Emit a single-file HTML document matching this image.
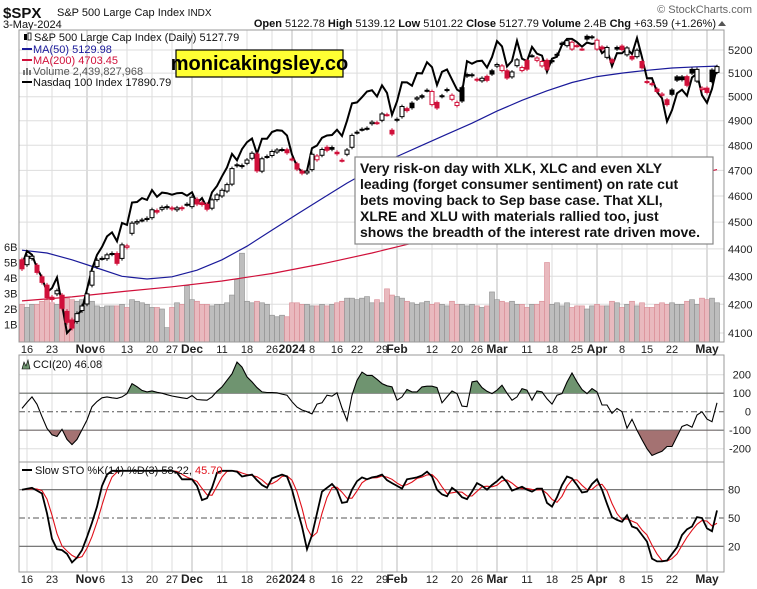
<!DOCTYPE html>
<html><head><meta charset="utf-8">
<style>
body{margin:0;background:#fff;}
svg{display:block;font-family:"Liberation Sans",Arial,sans-serif;}
</style></head>
<body>
<svg id="chart" width="757" height="589" viewBox="0 0 757 589" xmlns="http://www.w3.org/2000/svg">
<rect x="0" y="0" width="757" height="589" fill="#fff"/>
<g>
<text x="3" y="18" font-size="15" font-weight="bold" fill="#111">$SPX</text>
<text x="57" y="16" font-size="11" fill="#111">S&amp;P 500 Large Cap Index <tspan font-size="10">INDX</tspan></text>
<text x="3" y="28" font-size="11" fill="#111">3-May-2024</text>
<text x="716" y="27" font-size="11" text-anchor="end" fill="#111"><tspan font-weight="bold">Open</tspan> 5122.78 <tspan font-weight="bold">High</tspan> 5139.12 <tspan font-weight="bold">Low</tspan> 5101.22 <tspan font-weight="bold">Close</tspan> 5127.79 <tspan font-weight="bold">Volume</tspan> 2.4B <tspan font-weight="bold">Chg</tspan> +63.59 (+1.26%)</text>
<path d="M718,26 L722,21 L726,26 Z" fill="#555"/>
<text x="752" y="13" font-size="11" text-anchor="end" fill="#666">© StockCharts.com</text>
</g>
<g id="layers"></g>
</svg>
<script>
const closes=[4327,4373,4373,4314,4278,4224,4217,4248,4186,4137,
4117,4167,4194,4237,4318,4358,4365,4378,4383,4347,
4415,4411,4496,4502,4508,4514,4547,4538,4556,4559,
4550,4554,4551,4568,4595,4569,4567,4549,4585,4604,
4622,4644,4707,4719,4719,4741,4768,4698,4746,4755,
4775,4781,4783,4770,4743,4705,4689,4697,4764,4757,
4783,4780,4784,4766,4739,4781,4840,4851,4865,4869,
4894,4891,4928,4925,4846,4906,4959,4942,4954,4995,
4998,5027,5022,4953,5001,5030,5006,4976,4982,5087,
5089,5070,5078,5069,5096,5137,5131,5079,5105,5157,
5124,5117,5175,5165,5150,5117,5149,5178,5224,5241,
5234,5218,5204,5248,5254,5243,5205,5211,5147,5204,
5202,5209,5161,5199,5123,5061,5051,5022,5011,4967,
5010,5070,5072,5048,5100,5116,5036,5018,5064,5128];
const opens=[4360,4342,4365,4340,4298,4268,4225,4237,4232,4175,
4145,4140,4178,4201,4268,4335,4365,4364,4381,4383,
4365,4406,4458,4497,4507,4510,4517,4544,4549,4555,
4554,4547,4555,4567,4559,4587,4574,4568,4553,4586,
4600,4619,4646,4722,4715,4728,4748,4765,4697,4754,
4759,4773,4782,4782,4745,4726,4697,4690,4703,4742,
4760,4792,4791,4772,4740,4764,4792,4853,4864,4868,
4888,4892,4902,4925,4861,4902,4917,4950,4973,4990,
5004,5026,4967,4976,5004,5026,4989,4963,5038,5094,
5093,5074,5067,5086,5110,5130,5111,5110,5084,5132,
5111,5154,5175,5155,5131,5155,5154,5181,5230,5219,
5204,5219,5204,5260,5258,5204,5213,5168,5158,5211,
5217,5179,5172,5171,5150,5064,5055,5032,5006,4987,
5028,5084,5084,5085,5116,5066,5030,5036,5113,5103];
const prevClose0=4349;
const ndx=[14995,15180,15130,14950,14824,14633,14686,14826,14473,14110,
14181,14330,14410,14672,14940,15127,15236,15379,15434,15312,
15563,15537,15850,15857,15913,15887,16028,15931,15991,15982,
15961,15982,15987,15947,15997,15840,15913,15780,15995,16085,
16225,16352,16552,16458,16623,16726,16781,16554,16778,16778,
16878,16906,16898,16825,16543,16368,16283,16305,16637,16677,
16792,16825,16833,16912,16818,17048,17314,17330,17410,17499,
17518,17421,17596,17477,17137,17344,17642,17641,17590,17788,
17783,17962,17883,17600,17807,17845,17685,17529,17480,17979,
17937,17977,17986,17875,18043,18302,18217,17893,17982,18307,
18017,17977,18208,18099,18067,17808,18018,18050,18240,18339,
18339,18284,18211,18280,18255,18274,18107,18172,17899,18107,
18105,18179,18090,18354,18040,17706,17707,17493,17394,17037,
17210,17471,17526,17431,17718,17783,17441,17321,17541,17891];
const volumes=[2.3,2.1,2.3,2.3,2.5,2.6,2.4,2.3,2.9,2.7,
2.6,2.5,2.6,2.9,2.5,2.2,2.1,2.2,2.2,2.2,
2.3,2.1,2.6,2.5,2.4,2.3,2.1,2.1,2.0,0.8,
2.1,2.4,2.3,3.5,2.6,2.5,2.3,2.3,2.2,2.3,
2.3,2.4,2.9,3.9,5.6,2.5,2.4,2.5,2.4,2.3,
1.6,1.5,1.6,1.5,2.4,2.4,2.3,2.3,2.2,2.2,
2.3,2.2,2.3,2.4,2.5,2.7,2.7,2.6,2.7,2.8,
2.4,2.6,2.4,3.3,2.9,2.8,2.7,2.5,2.4,2.3,
2.4,2.5,2.3,2.4,2.3,2.2,2.5,2.3,2.3,2.2,
2.3,2.2,2.1,2.2,3.1,2.6,2.5,2.4,2.5,2.3,
2.3,2.1,2.3,2.3,2.5,5.0,2.3,2.4,2.2,2.4,
2.1,2.2,2.2,2.0,2.2,2.3,2.2,2.2,2.5,2.4,
2.1,2.3,2.5,2.2,2.4,2.1,2.1,2.3,2.4,2.3,
2.4,2.3,2.3,2.5,2.6,2.3,2.7,2.6,2.7,2.4];
const ma50Idx=[0,5,10,15,20,25,30,35,40,45,50,55,60,65,70,75,80,85,90,95,100,105,110,115,120,125,130,135,139];
const ma50Vals=[4395,4385,4360,4330,4300,4290,4298,4322,4360,4410,4470,4530,4590,4650,4705,4755,4800,4845,4890,4940,4985,5025,5060,5085,5100,5112,5122,5127,5130];
const ma200Idx=[0,10,20,30,40,50,60,70,80,90,100,110,120,130,139];
const ma200Vals=[4212,4226,4245,4262,4283,4310,4345,4385,4430,4478,4525,4572,4618,4662,4703];
const cci=[18,50,80,40,-27,-90,-125,-134,-95,-150,
-178,-150,-98,-45,27,55,75,80,75,72,
80,98,152,135,115,107,112,105,100,92,
85,80,75,71,87,66,64,62,80,110,
134,170,205,268,241,188,161,130,107,104,
104,102,95,89,54,25,9,0,-12,41,
48,89,84,102,20,-48,89,170,214,196,
196,175,152,140,134,62,80,120,107,107,
134,138,138,130,48,80,112,98,30,27,
161,166,130,110,98,116,143,100,62,80,
125,116,62,112,107,70,41,89,98,160,
209,161,120,98,125,107,36,36,-9,18,
0,-89,-41,-100,-152,-200,-237,-225,-214,-188,
-188,-134,-80,-70,-84,-18,0,-40,-54,48];
const stoK=[80,81,82,79,76,55,28,17,16,12,
3,8,16,30,45,62,84,96,100,100,
100,100,100,100,100,100,100,100,100,100,
100,98,91,91,91,84,69,71,82,98,
100,100,100,99,94,95,96,90,85,82,
92,94,96,94,80,60,41,17,32,55,
78,82,86,80,66,67,80,89,93,91,
93,94,96,90,87,84,81,91,92,93,
95,99,94,80,75,73,82,78,72,70,
78,87,84,80,85,89,94,88,79,81,
83,80,78,81,81,66,62,72,85,94,
92,85,77,78,86,91,80,65,51,48,
46,53,41,39,32,25,7,4,4,5,
12,19,32,38,41,51,50,39,36,58];
const priceTicks=[4100,4200,4300,4400,4500,4600,4700,4800,4900,5000,5100,5200];
const volTicks=[1,2,3,4,5,6];
const cciTicks=[200,100,0,-100,-200];
const stoTicks=[80,50,20];
const dateLabelIdx=[1,6,13,16,21,26,30,34,40,45,50,54,58,63,67,72,75,82,87,91,95,101,106,111,115,120,125,130,137];
const dateLabelText=["16","23","Nov","6","13","20","27","Dec","11","18","26","2024","8","16","22","29","Feb","12","20","26","Mar","11","18","25","Apr","8","15","22","May"];
const monthLabels=["Nov","Dec","2024","Feb","Mar","Apr","May"];

const NS="http://www.w3.org/2000/svg";
const root=document.getElementById('layers');
const L=19,R=724;
const P={top:30,bot:342},C={top:355,bot:462},S={top:462,bot:572};
function xOf(i){return 22+5*i;}
function py(p){return 50+1190.6*Math.log(5200/p);}
function ny(v){return 333-1122*Math.log(v/14110);}
function vy(v){return 340-15.5*v;}
function cy(v){return 411.7-0.185*v;}
function sy(v){return 518-0.944*(v-50);}
function mk(tag,attrs,parent){const e=document.createElementNS(NS,tag);for(const k in attrs)e.setAttribute(k,attrs[k]);(parent||root).appendChild(e);return e;}

const defs=mk('defs',{});
[['clipP',P],['clipC',C],['clipS',S]].forEach(([id,p])=>{const cp=mk('clipPath',{id:id},defs);mk('rect',{x:L,y:p.top,width:R-L,height:p.bot-p.top},cp);});
const cpA=mk('clipPath',{id:'cciAbove'},defs);mk('rect',{x:L,y:C.top,width:R-L,height:cy(100)-C.top},cpA);
const cpB=mk('clipPath',{id:'cciBelow'},defs);mk('rect',{x:L,y:cy(-100),width:R-L,height:C.bot-cy(-100)},cpB);

function panel(p,name){
  const g=mk('g',{});
  
  
  mk('rect',{x:L,y:p.top,width:R-L,height:p.bot-p.top,fill:'#fff',stroke:'none'},g);
  dateLabelIdx.forEach((i,k)=>{
    const isM=monthLabels.includes(dateLabelText[k]);
    const ln=mk('line',{x1:xOf(i),x2:xOf(i),y1:p.top,y2:p.bot,stroke:isM?'#bbb':'#ddd','stroke-width':1},g);
    
    
  });
  return g;
}
const gP=panel(P,'price-panel');
priceTicks.forEach(t=>{
  const ln=mk('line',{x1:L,x2:R,y1:py(t),y2:py(t),stroke:'#ddd'},gP);
  
  
  const tx=mk('text',{x:728,y:py(t)+4,'font-size':11,fill:'#222'});
  tx.textContent=t;
  
  
});
volTicks.forEach(t=>{
  const tx=mk('text',{x:4,y:vy(t)+4,'font-size':11,fill:'#222'});
  tx.textContent=t+'B';
  
  
});
const gV=mk('g',{'clip-path':'url(#clipP)'});


volumes.forEach((v,i)=>{
  const prev=i===0?prevClose0:closes[i-1];
  const down=closes[i]<prev;
  const b=mk('rect',{x:xOf(i)-2.5,y:vy(v),width:5,height:340-vy(v)+2,fill:down?'#e9b9be':'#bdbdbd',stroke:down?'#d98a93':'#8e8e8e','stroke-width':0.6},gV);
  
  
});
function polyline(idx,vals,f,attrs,parent,name){
  let d='';idx.forEach((i,k)=>{d+=(k?'L':'M')+xOf(i).toFixed(1)+','+f(vals[k]).toFixed(1);});
  const p=mk('path',Object.assign({d:d,fill:'none'},attrs),parent);
  
  
  return p;
}
const all=closes.map((_,i)=>i);
const gL=mk('g',{'clip-path':'url(#clipP)'});
polyline(ma200Idx,ma200Vals,py,{stroke:'#d0103a','stroke-width':1.2},gL,'ma200-line');
polyline(ma50Idx,ma50Vals,py,{stroke:'#1a1a9a','stroke-width':1.2},gL,'ma50-line');
polyline(all,ndx,ny,{stroke:'#000','stroke-width':2},gL,'nasdaq100-line');
const gC=mk('g',{'clip-path':'url(#clipP)'});


closes.forEach((c,i)=>{
  const o=opens[i];const prev=i===0?prevClose0:closes[i-1];
  const col=c<prev?'#d0103a':'#000';
  const hi=Math.max(o,c)+8,lo=Math.min(o,c)-8;
  const w=mk('line',{x1:xOf(i),x2:xOf(i),y1:py(hi),y2:py(lo),stroke:col,'stroke-width':1},gC);
  
  
  const top=py(Math.max(o,c)),bh=Math.max(1,py(Math.min(o,c))-top);
  const b=mk('rect',{x:xOf(i)-2,y:top,width:4,height:bh,fill:c<o?col:'#fff',stroke:col,'stroke-width':1},gC);
  
  
});
mk('rect',{x:L,y:P.top,width:R-L,height:P.bot-P.top,fill:'none',stroke:'#999'});

const gCP=panel(C,'cci-panel');
cciTicks.forEach(t=>{
  const ln=mk('line',{x1:L,x2:R,y1:cy(t),y2:cy(t),stroke:(t===100||t===-100)?'#666':(t===0?'#555':'#ddd'),'stroke-width':(t===100||t===-100)?1.2:1,'stroke-dasharray':t===0?'6,3,2,3':'none'},gCP);
  
  
  const tx=mk('text',{x:751,y:cy(t)+4,'font-size':11,fill:'#222','text-anchor':'end'});
  tx.textContent=t;
  
  
});
function areaD(vals,f,base){let d='M'+xOf(0)+','+base;vals.forEach((v,i)=>{d+='L'+xOf(i).toFixed(1)+','+f(v).toFixed(1);});d+='L'+xOf(vals.length-1)+','+base+'Z';return d;}
const fa=mk('path',{d:areaD(cci,cy,cy(100)),fill:'#6f9470',stroke:'none','clip-path':'url(#cciAbove)'});


const fb=mk('path',{d:areaD(cci,cy,cy(-100)),fill:'#a47272',stroke:'none','clip-path':'url(#cciBelow)'});


const gCL=mk('g',{'clip-path':'url(#clipC)'});
polyline(all,cci,cy,{stroke:'#000','stroke-width':1.1},gCL,'cci-line');
mk('rect',{x:L,y:C.top,width:R-L,height:C.bot-C.top,fill:'none',stroke:'#999'});

const gSP=panel(S,'stochastic-panel');
stoTicks.forEach(t=>{
  const ln=mk('line',{x1:L,x2:R,y1:sy(t),y2:sy(t),stroke:t===50?'#555':'#666','stroke-width':t===50?1:1.2,'stroke-dasharray':t===50?'6,3,2,3':'none'},gSP);
  
  
  const tx=mk('text',{x:728,y:sy(t)+4,'font-size':11,fill:'#222'});
  tx.textContent=t;
  
  
});
const stoD=stoK.map((v,i)=>{const a=stoK.slice(Math.max(0,i-2),i+1);return a.reduce((s,x)=>s+x,0)/a.length;});
const gSL=mk('g',{'clip-path':'url(#clipS)'});
polyline(all,stoD,sy,{stroke:'#e0101a','stroke-width':1.1},gSL,'sto-d-line');
polyline(all,stoK,sy,{stroke:'#000','stroke-width':1.8},gSL,'sto-k-line');
mk('rect',{x:L,y:S.top,width:R-L,height:S.bot-S.top,fill:'none',stroke:'#999'});

[349,579].forEach(yy=>{
  dateLabelIdx.forEach((i,k)=>{
    const t=dateLabelText[k];const isM=monthLabels.includes(t);
    const tx=mk('text',{x:xOf(i),y:yy+4,'font-size':isM?12:11,'font-weight':isM?'bold':'normal','text-anchor':'middle',fill:'#222'});
    tx.textContent=t;
    
    
  });
});

function txt(x,y,s,attrs,name){const t=mk('text',Object.assign({x:x,y:y,'font-size':11},attrs||{}));t.textContent=s;return t;}
txt(34,41,'S&P 500 Large Cap Index (Daily) 5127.79',{fill:'#111'},'legend-price');
mk('rect',{x:24,y:34,width:3,height:6,fill:'#000'});mk('rect',{x:28,y:33,width:3,height:7,fill:'none',stroke:'#000','stroke-width':0.8});
mk('line',{x1:22,x2:32,y1:49,y2:49,stroke:'#1a1a9a','stroke-width':2});
txt(33,53,'MA(50) 5129.98',{fill:'#1a1a9a'},'legend-ma50');
mk('line',{x1:22,x2:32,y1:60,y2:60,stroke:'#d0103a','stroke-width':2});
txt(33,64,'MA(200) 4703.45',{fill:'#d0103a'},'legend-ma200');
mk('rect',{x:23,y:70,width:2,height:5,fill:'#777'});mk('rect',{x:26,y:68,width:2,height:7,fill:'#777'});mk('rect',{x:29,y:70,width:2,height:5,fill:'#777'});
txt(33,75,'Volume 2,439,827,968',{fill:'#555'},'legend-volume');
mk('line',{x1:22,x2:32,y1:82,y2:82,stroke:'#000','stroke-width':2});
txt(33,86,'Nasdaq 100 Index 17890.79',{fill:'#111'},'legend-nasdaq100');
mk('path',{d:'M22,369 L24,362 L26,366 L28,360 L30,369 Z',fill:'#6f9470',stroke:'#000','stroke-width':0.6});
txt(33,368,'CCI(20) 46.08',{fill:'#111'},'legend-cci');
mk('line',{x1:22,x2:32,y1:470,y2:470,stroke:'#000','stroke-width':2});
const st=txt(35,474,'Slow STO %K(14) %D(3) 58.22, ',{fill:'#111'},'legend-sto');
const red=mk('tspan',{fill:'#e0101a'},st);red.textContent='45.70';

const lg=mk('g',{});


mk('rect',{x:176,y:50,width:167,height:27,fill:'#ffff33',stroke:'#000','stroke-width':1.2},lg);
const lt=mk('text',{x:259.5,y:70,'font-size':20,'font-weight':'bold','text-anchor':'middle',fill:'#000'},lg);lt.textContent='monicakingsley.co';

const an=mk('g',{});


mk('rect',{x:355,y:157,width:358,height:87,fill:'#fff',stroke:'#888','stroke-width':1.2},an);
['Very risk-on day with XLK, XLC and even XLY','leading (forget consumer sentiment) on rate cut','bets moving back to Sep base case. That XLI,','XLRE and XLU with materials rallied too, just','shows the breadth of the interest rate driven move.'].forEach((s,k)=>{
  const t=mk('text',{x:360,y:173+16*k,'font-size':14,'font-weight':'bold',fill:'#111'},an);t.textContent=s;
});
</script>
</body></html>
